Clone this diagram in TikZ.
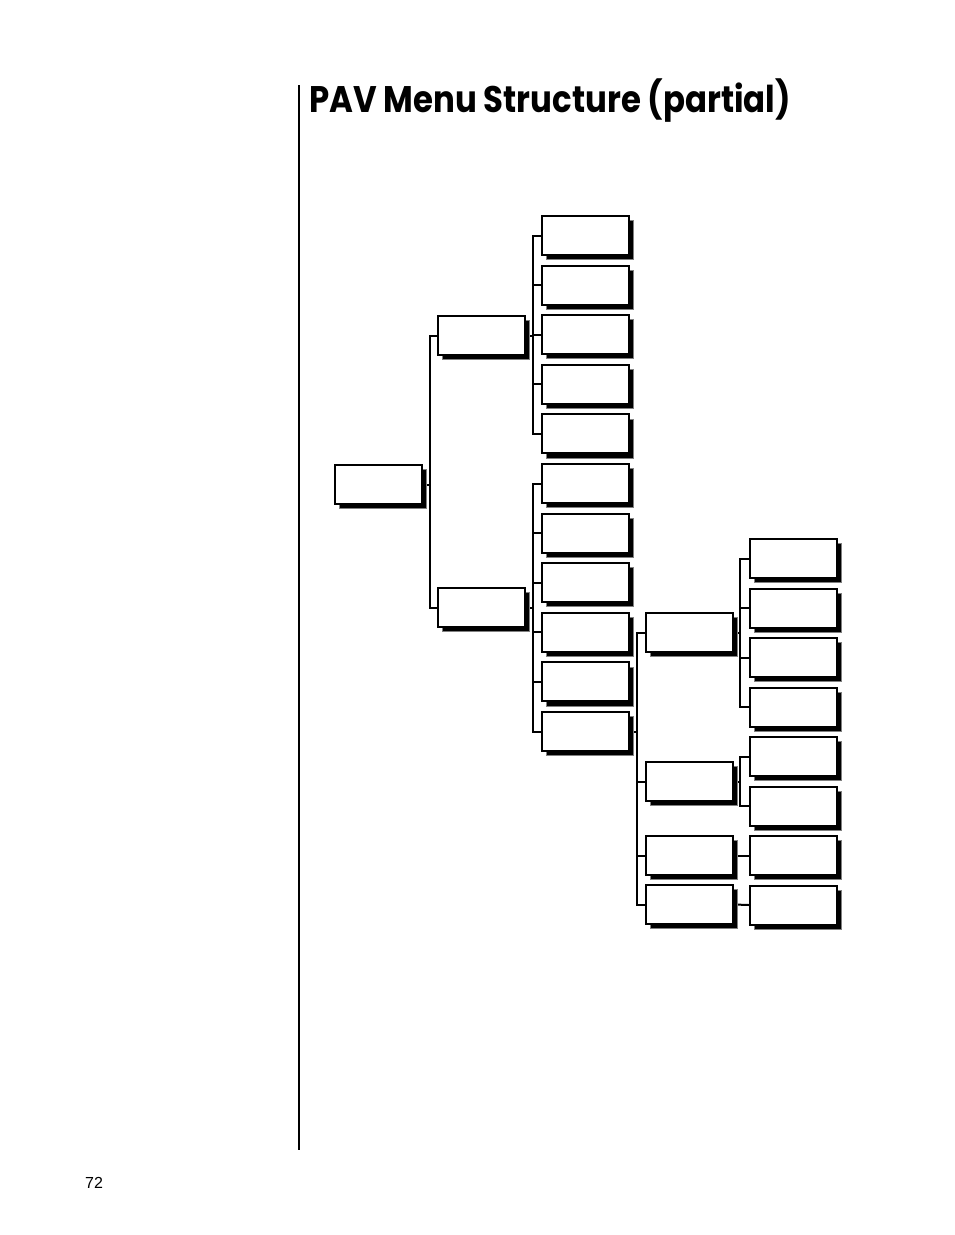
\documentclass[tikz,border=0pt]{standalone}
\usepackage{fontspec}
\newfontfamily\titlefont{Poppins}
\newfontfamily\pagefont{Liberation Sans}
\usetikzlibrary{calc,shadows,backgrounds}

\begin{document}
\begin{tikzpicture}
      [x = 1pt, y = -1pt,
      menubox/.style= {
         draw,
         fill = white,
         line width = 2pt,
         inner sep = 0pt,
         minimum width = 87pt,
         minimum height = 39pt,
         anchor = north west,
         drop shadow = {shadow xshift = 4.5pt, shadow yshift = -4.5pt,
                        fill = black, opacity = 1, draw = gray, line width = 0.8pt}
      },
      link/.style= {draw, line width = 2pt}]
      \useasboundingbox (0, 0) rectangle (954, 1235);

      % page rule, title and page number
      \draw[line width = 1.4pt] (299, 85) -- (299, 1150);
      \node[anchor = base west, inner sep = 0pt, xscale = 0.875] (title) at (309, 112)
         {\titlefont\bfseries\fontsize{37}{37}\selectfont PAV Menu Structure (partial)};
      \node[anchor = base west, inner sep = 0pt] (page) at (85, 1188)
         {\pagefont\fontsize{16}{16}\selectfont 72};

      % boxes
      \node[menubox] (root) at (334, 464) {};
      \node[menubox] (a1) at (437, 315) {};
      \node[menubox] (a2) at (437, 587) {};
      \foreach \i in {1,...,11}
         \node[menubox] (b\i) at (541, {215 + 49.6*(\i-1)}) {};
      \node[menubox] (c1) at (645, 612) {};
      \node[menubox] (c2) at (645, 761) {};
      \node[menubox] (c3) at (645, 835) {};
      \node[menubox] (c4) at (645, 884) {};
      \foreach \i in {1,...,8}
         \node[menubox] (d\i) at (749, {538 + 49.5*(\i-1)}) {};

      % connectors
      \begin{scope}[on background layer]
         \coordinate (busA) at ([xshift = -7pt]a1.west);
         \path[link] (a1.west) -- (busA) |- (a2.west);
         \path[link] (root.east) -- (root.east -| busA);

         \coordinate (busB) at ([xshift = -8pt]b1.west);
         \path[link] (b1.west) -- (busB) |- (b5.west);
         \foreach \i in {2,...,4}
            \path[link] (b\i.west) -- (b\i.west -| busB);
         \path[link] (a1.east) -- (a1.east -| busB);
         \path[link] (b6.west) -- (b6.west -| busB) |- (b11.west);
         \foreach \i in {7,...,10}
            \path[link] (b\i.west) -- (b\i.west -| busB);
         \path[link] (a2.east) -- (a2.east -| busB);

         \coordinate (busC) at ([xshift = -8pt]c1.west);
         \path[link] (c1.west) -- (busC) |- (c4.west);
         \foreach \i in {2,3}
            \path[link] (c\i.west) -- (c\i.west -| busC);
         \path[link] (b11.east) -- (b11.east -| busC);

         \coordinate (busD) at ([xshift = -9pt]d1.west);
         \path[link] (d1.west) -- (busD) |- (d4.west);
         \foreach \i in {2,3}
            \path[link] (d\i.west) -- (d\i.west -| busD);
         \path[link] (c1.east) -- (c1.east -| busD);
         \path[link] (d5.west) -- (d5.west -| busD) |- (d6.west);
         \path[link] (c2.east) -- (c2.east -| busD);
         \path[link] (c3.east) -- (d7.west);
         \path[link] (c4.east) -- (d8.west);
      \end{scope}
\end{tikzpicture}
\end{document}
